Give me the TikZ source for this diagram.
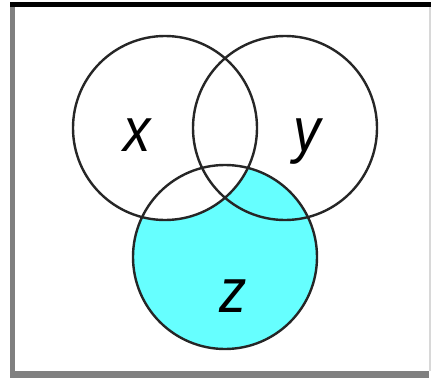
\documentclass[tikz,border=0pt]{standalone}
\usepackage{fontspec}
\setmainfont{Liberation Sans}
\usepackage{xcolor}
\usetikzlibrary{calc, positioning}

\definecolor{zcyan}{HTML}{66FFFF}
\definecolor{framegray}{HTML}{808080}
\definecolor{edgegray}{HTML}{D8D8D8}

\tikzset{
  setline/.style={line width=2.4pt, draw=black!85},
  setlabel/.style={anchor=base, inner sep=0pt, xscale=0.88,
    font=\fontsize{62}{66}\selectfont\itshape}
}

\begin{document}
\begin{tikzpicture}[x=1pt,y=-1pt]
\useasboundingbox (0,0) rectangle (431,378);
\coordinate (X) at (165,128);
\coordinate (Y) at (285,128);
\coordinate (Z) at (225,257);

% frame
\fill[framegray] (10,7) rectangle (15,378);
\fill[framegray] (10,371) rectangle (429,378);
\fill[black] (10,2) rectangle (431,7);
\fill[edgegray] (429,7) rectangle (431,371);

\fill[zcyan] (Z) circle (92);
\fill[white] (X) circle (92);

\draw[setline] (X) circle (92);
\draw[setline] (Y) circle (92);
\draw[setline] (Z) circle (92);

\node[setlabel] (lblx) at (137,151) {x};
\node[setlabel] (lbly) at (307,151) {y};
\node[setlabel] (lblz) at (233,312) {z};
\end{tikzpicture}
\end{document}
